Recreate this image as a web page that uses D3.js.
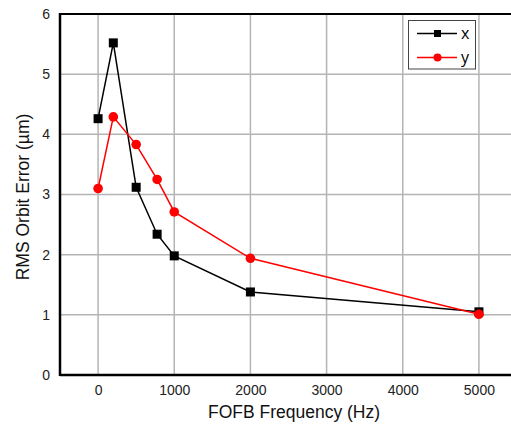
<!DOCTYPE html>
<html><head><meta charset="utf-8">
<script src="https://cdn.jsdelivr.net/npm/d3@7"></script>
<style>body{margin:0;background:#fff}svg{display:block}</style>
</head><body>
<svg id="c" width="511" height="429"></svg>
<script>
const freqs = [0, 200, 500, 775, 1000, 2000, 5000];
const xErr = [4.26, 5.52, 3.12, 2.34, 1.98, 1.38, 1.05];
const yErr = [3.10, 4.29, 3.83, 3.25, 2.71, 1.94, 1.01];
const xTicks = [0, 1000, 2000, 3000, 4000, 5000];
const yTicks = [0, 1, 2, 3, 4, 5, 6];
const seriesNames = ["x", "y"];

const svg = d3.select("#c");
const L = 60, T = 14, R = 517, B = 375;
const x = d3.scaleLinear().domain([-500, 5500]).range([L, R]);
const y = d3.scaleLinear().domain([0, 6]).range([B, T]);
const font = "'Liberation Sans', Arial, sans-serif";

// grid
const g = svg.append("g");
g.selectAll(".vg").data(xTicks).join("line")
  .attr("x1", d => x(d)).attr("x2", d => x(d)).attr("y1", T).attr("y2", B)
  .attr("stroke", "#b4b4b4").attr("stroke-width", 1.5);
g.selectAll(".hg").data(yTicks.filter(d => d > 0 && d < 6)).join("line")
  .attr("x1", L).attr("x2", R).attr("y1", d => y(d)).attr("y2", d => y(d))
  .attr("stroke", "#b4b4b4").attr("stroke-width", 1.5);

// frame
svg.append("line").attr("x1", L).attr("x2", R).attr("y1", T).attr("y2", T).attr("stroke", "#000").attr("stroke-width", 2);
svg.append("line").attr("x1", L).attr("x2", R).attr("y1", B).attr("y2", B).attr("stroke", "#000").attr("stroke-width", 2.5);
svg.append("line").attr("x1", L).attr("x2", L).attr("y1", T - 1).attr("y2", B + 1).attr("stroke", "#000").attr("stroke-width", 2.5);

// axes labels
const xAxis = d3.axisBottom(x).tickValues(xTicks).tickFormat(d3.format("d")).tickSize(0).tickPadding(10);
svg.append("g").attr("transform", `translate(0,${B})`).call(xAxis)
  .call(a => a.select(".domain").remove())
  .selectAll("text").attr("font-family", font).attr("font-size", 14).attr("fill", "#222");
const yAxis = d3.axisLeft(y).tickValues(yTicks).tickFormat(d3.format("d")).tickSize(0).tickPadding(10);
svg.append("g").attr("transform", `translate(${L},0)`).call(yAxis)
  .call(a => a.select(".domain").remove())
  .selectAll("text").attr("font-family", font).attr("font-size", 14).attr("fill", "#222");

svg.append("text").attr("x", 294).attr("y", 418).attr("text-anchor", "middle")
  .attr("font-family", font).attr("font-size", 17.5).attr("fill", "#111").text("FOFB Frequency (Hz)");
svg.append("text").attr("transform", "translate(29,197) rotate(-90)").attr("text-anchor", "middle")
  .attr("font-family", font).attr("font-size", 17.5).attr("fill", "#111").text("RMS Orbit Error (µm)");

// series
const line = d3.line().x(d => x(d[0])).y(d => y(d[1]));
const dx = freqs.map((f, i) => [f, xErr[i]]);
const dy = freqs.map((f, i) => [f, yErr[i]]);
svg.append("path").datum(dx).attr("d", line).attr("fill", "none").attr("stroke", "#000").attr("stroke-width", 1.5);
svg.selectAll(".sq").data(dx).join("rect")
  .attr("x", d => x(d[0]) - 4.5).attr("y", d => y(d[1]) - 4.5).attr("width", 9).attr("height", 9).attr("fill", "#000");
svg.append("path").datum(dy).attr("d", line).attr("fill", "none").attr("stroke", "#f00").attr("stroke-width", 1.5);
svg.selectAll(".ci").data(dy).join("circle")
  .attr("cx", d => x(d[0])).attr("cy", d => y(d[1])).attr("r", 4.8).attr("fill", "#f00");

// legend
const lg = svg.append("g");
lg.append("rect").attr("x", 408.5).attr("y", 20.5).attr("width", 67).attr("height", 48.5)
  .attr("fill", "#fff").attr("stroke", "#444").attr("stroke-width", 1);
const lcol = ["#000", "#f00"];
seriesNames.forEach((n, i) => {
  const yy = 33.5 + i * 24;
  lg.append("line").attr("x1", 417).attr("x2", 457).attr("y1", yy).attr("y2", yy).attr("stroke", lcol[i]).attr("stroke-width", 1.5);
  if (i === 0) lg.append("rect").attr("x", 434).attr("y", yy - 3.5).attr("width", 7).attr("height", 7).attr("fill", "#000");
  else lg.append("circle").attr("cx", 437.5).attr("cy", yy).attr("r", 4).attr("fill", "#f00");
  lg.append("text").attr("x", 461).attr("y", yy + 5).attr("font-family", "'Open Sans', sans-serif").attr("font-size", 16).attr("fill", "#000").text(n);
});
</script>
</body></html>
